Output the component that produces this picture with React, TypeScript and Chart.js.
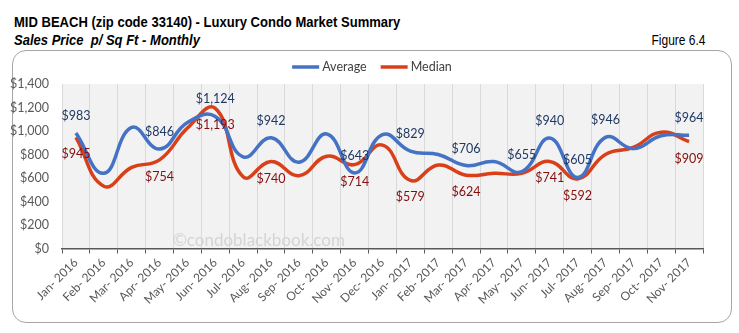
import React, { useEffect, useRef } from "react";
import { Chart, registerables } from "chart.js";

Chart.register(...registerables);

const months = [
  "Jan- 2016", "Feb- 2016", "Mar- 2016", "Apr- 2016", "May- 2016", "Jun- 2016",
  "Jul- 2016", "Aug- 2016", "Sep- 2016", "Oct- 2016", "Nov- 2016", "Dec- 2016",
  "Jan- 2017", "Feb- 2017", "Mar- 2017", "Apr- 2017", "May- 2017", "Jun- 2017",
  "Jul- 2017", "Aug- 2017", "Sep- 2017", "Oct- 2017", "Nov- 2017",
];

const averageValues = [983, 640, 1030, 846, 1072, 1124, 780, 942, 735, 975, 643, 970, 829, 800, 706, 740, 655, 940, 605, 946, 850, 960, 964];
const medianValues = [945, 530, 690, 754, 1025, 1193, 610, 740, 620, 785, 714, 880, 579, 710, 624, 640, 640, 741, 592, 800, 860, 990, 909];

const averageLabelIdx = [0, 3, 5, 7, 10, 12, 14, 16, 17, 18, 19, 22];
const medianLabelIdx = [0, 3, 5, 7, 10, 12, 14, 17, 18, 22];

const yMin = 0;
const yMax = 1400;
const yStep = 200;

const titleText = "MID BEACH (zip code 33140) - Luxury Condo Market Summary";
const subtitleText = "Sales Price  p/ Sq Ft - Monthly";
const figureText = "Figure 6.4";
const watermarkText = "\u00A9condoblackbook.com";

const BLUE = "#4472C4";
const RED = "#D9401A";
const BLUE_LABEL = "#1F3864";
const RED_LABEL = "#840C0C";
const FONT = "Lato, 'Noto Sans', sans-serif";

const fmt = (v: number) => "$" + v.toLocaleString("en-US");

const bgPlugin = {
  id: "plotBg",
  beforeDraw(chart: any) {
    const { ctx, chartArea } = chart;
    ctx.save();
    ctx.fillStyle = "#f2f2f2";
    ctx.fillRect(chartArea.left, chartArea.top, chartArea.right - chartArea.left, chartArea.bottom - chartArea.top);
    ctx.restore();
  },
  beforeDatasetsDraw(chart: any) {
    const { ctx, chartArea } = chart;
    ctx.save();
    ctx.font = "17px " + FONT;
    ctx.fillStyle = "#d4d4d4";
    ctx.textAlign = "center";
    ctx.textBaseline = "middle";
    ctx.fillText(watermarkText, chartArea.left + (chartArea.right - chartArea.left) * 0.307, chartArea.bottom - 8);
    ctx.restore();
  },
};

const labelsPlugin = {
  id: "pointLabels",
  afterDatasetsDraw(chart: any) {
    const { ctx } = chart;
    const specs = [
      { ds: 0, idx: averageLabelIdx, dy: -17, color: BLUE_LABEL },
      { ds: 1, idx: medianLabelIdx, dy: 17, color: RED_LABEL },
    ];
    ctx.save();
    ctx.font = "12.5px " + FONT;
    ctx.textAlign = "center";
    ctx.textBaseline = "middle";
    for (const s of specs) {
      const meta = chart.getDatasetMeta(s.ds);
      const data = chart.data.datasets[s.ds].data as number[];
      ctx.fillStyle = s.color;
      for (const i of s.idx) {
        const pt = meta.data[i];
        if (!pt) continue;
        ctx.fillText(fmt(data[i]), pt.x, pt.y + s.dy);
      }
    }
    ctx.restore();
  },
  afterDraw(chart: any) {
    const { ctx } = chart;
    ctx.save();
    ctx.font = "12.5px " + FONT;
    ctx.textBaseline = "middle";
    const lineW = 27;
    const gapText = 3;
    const gapItems = 14;
    const items = chart.data.datasets.map((d: any) => ({
      label: d.label,
      color: d.borderColor,
      w: lineW + gapText + ctx.measureText(d.label).width,
    }));
    const total = items.reduce((a: number, it: any) => a + it.w, 0) + gapItems * (items.length - 1);
    let x = 372 - total / 2;
    const y = 67;
    for (const it of items) {
      ctx.strokeStyle = it.color;
      ctx.lineWidth = 3.5;
      ctx.lineCap = "butt";
      ctx.beginPath();
      ctx.moveTo(x, y);
      ctx.lineTo(x + lineW, y);
      ctx.stroke();
      ctx.fillStyle = "#404040";
      ctx.textAlign = "left";
      ctx.fillText(it.label, x + lineW + gapText, y);
      x += it.w + gapItems;
    }
    ctx.restore();
  },
};

export default function App() {
  const canvasRef = useRef<HTMLCanvasElement | null>(null);

  useEffect(() => {
    if (!canvasRef.current) return;
    const chart = new Chart(canvasRef.current, {
      type: "line",
      data: {
        labels: months,
        datasets: [
          {
            label: "Average",
            data: averageValues,
            borderColor: BLUE,
            backgroundColor: BLUE,
            borderWidth: 3.5,
            pointRadius: 0,
            tension: 0.45,
            fill: false,
          },
          {
            label: "Median",
            data: medianValues,
            borderColor: RED,
            backgroundColor: RED,
            borderWidth: 3.5,
            pointRadius: 0,
            tension: 0.45,
            fill: false,
          },
        ],
      },
      options: {
        responsive: false,
        animation: false,
        events: [],
        layout: { padding: { left: 0, right: 36, top: 84, bottom: 0 } },
        plugins: {
          legend: { display: false },
          title: { display: false },
          tooltip: { enabled: false },
        },
        scales: {
          x: {
            type: "category",
            offset: true,
            grid: {
              offset: true,
              color: "#d9d9d9",
              lineWidth: 1,
              tickColor: "#595959",
              tickLength: 5,
              drawTicks: true,
            },
            border: { display: true, color: "#595959", width: 1.5 },
            ticks: {
              autoSkip: false,
              minRotation: 45,
              maxRotation: 45,
              padding: 2,
              color: "#595959",
              font: { family: FONT, size: 12 },
            },
            afterFit(scale: any) {
              scale.height = 84.5;
            },
          },
          y: {
            min: yMin,
            max: yMax,
            grid: { display: false, drawTicks: false },
            border: { display: false },
            ticks: {
              stepSize: yStep,
              padding: 13,
              color: "#595959",
              font: { family: FONT, size: 12.5 },
              callback: (v: any) => fmt(Number(v)),
            },
            afterFit(scale: any) {
              scale.width = 62;
            },
          },
        },
      },
      plugins: [bgPlugin, labelsPlugin],
    });
    return () => chart.destroy();
  }, []);

  const head = "'Liberation Sans', Arial, sans-serif";
  const squeeze = { transform: "scaleX(0.84)", transformOrigin: "left center" } as const;

  return (
    <div style={{ position: "fixed", left: 0, top: 0, width: 739, height: 333, background: "#fff", overflow: "hidden" }}>
      <div style={{ position: "absolute", left: 14, top: 13, fontFamily: head, fontWeight: "bold", fontSize: 15.5, color: "#000", whiteSpace: "nowrap", lineHeight: "18px", ...squeeze }}>
        {titleText}
      </div>
      <div style={{ position: "absolute", left: 14, top: 31, fontFamily: head, fontWeight: "bold", fontStyle: "italic", fontSize: 15.5, color: "#000", whiteSpace: "pre", lineHeight: "18px", ...squeeze }}>
        {subtitleText}
      </div>
      <div style={{ position: "absolute", right: 33, top: 31, fontFamily: head, fontSize: 15, color: "#000", whiteSpace: "nowrap", lineHeight: "18px", transform: "scaleX(0.8)", transformOrigin: "right center" }}>
        {figureText}
      </div>
      <div style={{ position: "absolute", left: 12, top: 50, width: 720, height: 273, boxSizing: "border-box", border: "1.5px solid #a6a6a6", borderRadius: 14 }} />
      <canvas ref={canvasRef} width={739} height={333} style={{ position: "absolute", left: 0, top: 0, width: 739, height: 333 }} />
    </div>
  );
}
